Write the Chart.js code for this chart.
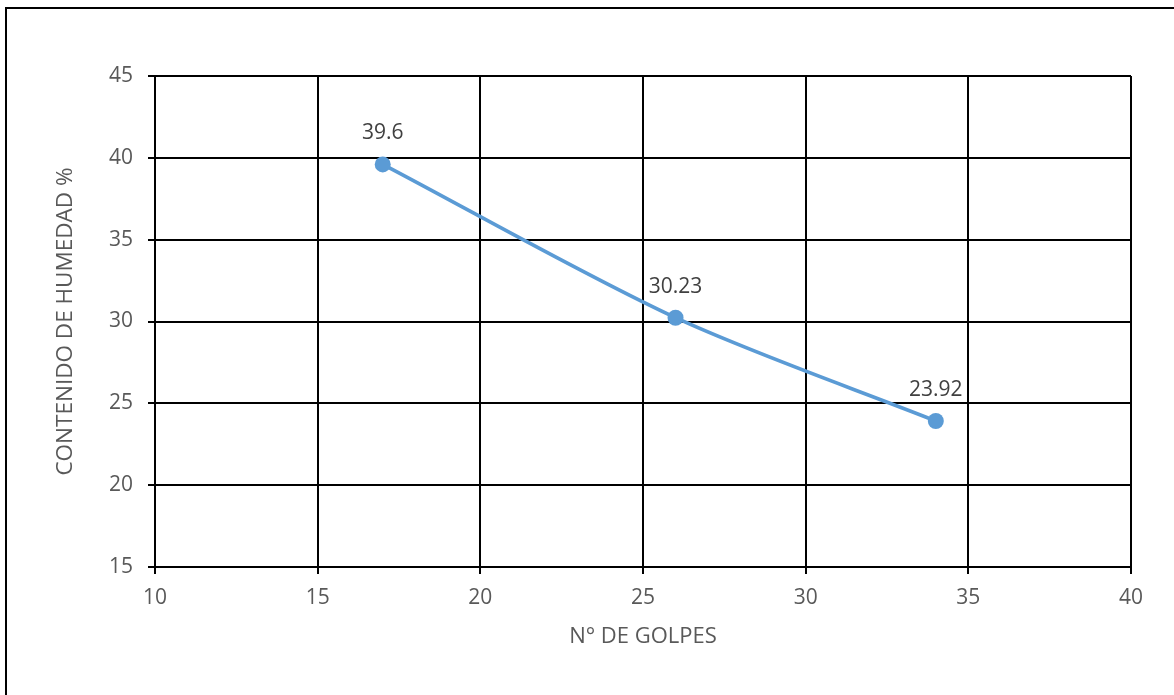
<!DOCTYPE html>
<html>
<head>
<meta charset="utf-8">
<script src="https://cdn.jsdelivr.net/npm/chart.js@4/dist/chart.umd.min.js"></script>
<style>
  html, body { margin: 0; padding: 0; background: #fff; }
  #wrap { position: relative; width: 1174px; height: 695px; overflow: hidden; }
  #frame { position: absolute; left: 5px; top: 7px; width: 1300px; height: 800px;
           border-left: 2px solid #000; border-top: 2px solid #000; }
  canvas { position: absolute; left: 0; top: 0; }
</style>
</head>
<body>
<div id="wrap">
  <div id="frame"></div>
  <canvas id="chart" width="1174" height="695"></canvas>
</div>
<script>
// N° de golpes vs. contenido de humedad
const golpes = [17, 26, 34];
const humedad = [39.6, 30.23, 23.92];
const xTicks = [10, 15, 20, 25, 30, 35, 40];
const yTicks = [15, 20, 25, 30, 35, 40, 45];

const FONT = "'Open Sans', 'Noto Sans', sans-serif";
const lineColor = '#5B9BD5';

// value labels above each point
const pointLabels = {
  id: 'pointLabels',
  afterDatasetsDraw(chart) {
    const ctx = chart.ctx;
    const meta = chart.getDatasetMeta(0);
    ctx.save();
    ctx.font = '21px ' + FONT;
    ctx.fillStyle = '#404040';
    ctx.textAlign = 'center';
    ctx.textBaseline = 'middle';
    meta.data.forEach((pt, i) => {
      ctx.fillText(String(humedad[i]), pt.x, pt.y - 31);
    });
    ctx.restore();
  }
};

new Chart(document.getElementById('chart'), {
  type: 'scatter',
  data: {
    datasets: [{
      data: golpes.map((g, i) => ({ x: g, y: humedad[i] })),
      showLine: true,
      borderColor: lineColor,
      backgroundColor: lineColor,
      borderWidth: 3.6,
      tension: 0.3,
      pointRadius: 8,
      pointHoverRadius: 8,
      pointBorderWidth: 0
    }]
  },
  options: {
    responsive: false,
    animation: false,
    devicePixelRatio: 1,
    layout: { padding: { left: 0, top: 76, right: 43, bottom: 0 } },
    plugins: {
      legend: { display: false },
      tooltip: { enabled: false }
    },
    scales: {
      x: {
        type: 'linear',
        min: 10, max: 40,
        afterFit: s => { s.height = 128; },
        afterBuildTicks: s => { s.ticks = xTicks.map(v => ({ value: v })); },
        grid: { color: '#000', lineWidth: 2, tickLength: 7, drawTicks: true },
        border: { color: '#000', width: 2 },
        ticks: { color: '#595959', padding: 11, font: { family: FONT, size: 21 } },
        title: {
          display: true, text: 'N° DE GOLPES', color: '#595959',
          font: { family: FONT, size: 22 }, padding: { top: 0, bottom: 45 }
        }
      },
      y: {
        type: 'linear',
        min: 15, max: 45,
        afterFit: s => { s.width = 155; },
        afterBuildTicks: s => { s.ticks = yTicks.map(v => ({ value: v })); },
        grid: { color: '#000', lineWidth: 2, tickLength: 7, drawTicks: true },
        border: { color: '#000', width: 2 },
        ticks: { color: '#595959', padding: 15, font: { family: FONT, size: 21 } },
        title: {
          display: true, text: 'CONTENIDO DE HUMEDAD %', color: '#595959',
          font: { family: FONT, size: 22.5 }, padding: { top: 52, bottom: 0 }
        }
      }
    }
  },
  plugins: [pointLabels]
});
</script>
</body>
</html>
